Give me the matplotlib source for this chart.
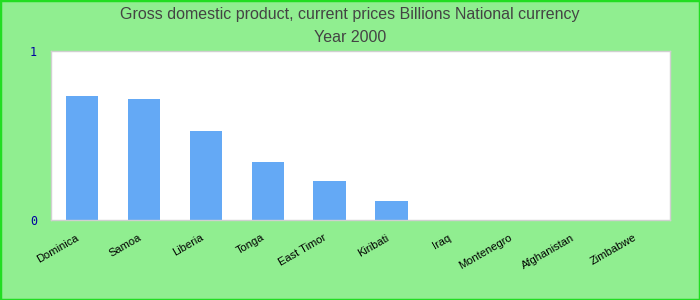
import matplotlib
matplotlib.use("Agg")
import matplotlib.pyplot as plt
from matplotlib.patches import Rectangle
import matplotlib.transforms as mtransforms

countries = ["Dominica", "Samoa", "Liberia", "Tonga", "East Timor", "Kiribati",
             "Iraq", "Montenegro", "Afghanistan", "Zimbabwe"]
gdp = [0.734, 0.716, 0.527, 0.343, 0.231, 0.112, 0, 0, 0, 0]
y_ticks = [0, 1]

fig = plt.figure(figsize=(7, 3), dpi=100, facecolor="#90ee90")
fig.patches.append(Rectangle((0, 0), 1, 1, transform=fig.transFigure, fill=False,
                             edgecolor="#22dd22", linewidth=2.5, zorder=10))

ax = fig.add_axes([51 / 700, 1 - 220 / 300, 619 / 700, 169 / 300])
ax.set_facecolor("white")
x = list(range(len(countries)))
ax.bar(x, gdp, width=0.52, color="#64a9f5")
ax.set_xlim(-0.5, len(countries) - 0.5)
ax.set_ylim(0, 1)

for s in ax.spines.values():
    s.set_color("#d0d0d0")
    s.set_linewidth(1)

ax.set_yticks(y_ticks)
ax.set_yticklabels([str(v) for v in y_ticks], family="DejaVu Sans Mono",
                   fontsize=8.5, color="#0000a0")
ax.tick_params(axis="y", length=0, pad=10)

ax.set_xticks(x)
ax.set_xticklabels(countries, rotation=30, ha="right", rotation_mode="anchor",
                   fontsize=8, family="Liberation Sans", color="black")
ax.tick_params(axis="x", length=0, pad=9)
offset = mtransforms.ScaledTranslation(-6 / 100, 0, fig.dpi_scale_trans)
for lbl in ax.get_xticklabels():
    lbl.set_transform(lbl.get_transform() + offset)

fig.text(0.5, 1 - 14 / 300, "Gross domestic product, current prices Billions National currency",
         ha="center", va="center", fontsize=11.5, color="#444444", family="Liberation Sans")
fig.text(0.5, 1 - 37 / 300, "Year 2000",
         ha="center", va="center", fontsize=11.5, color="#444444", family="Liberation Sans")

fig.savefig("out.png", dpi=100, facecolor=fig.get_facecolor())
